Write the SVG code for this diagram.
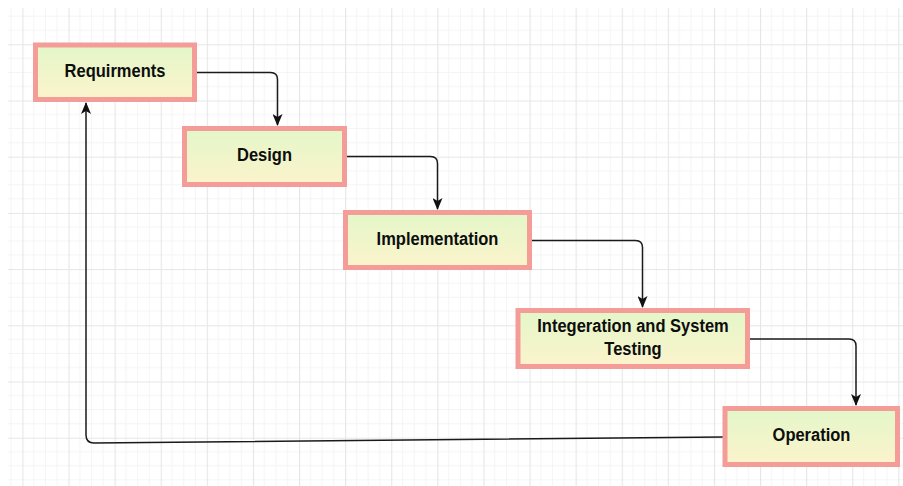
<svg xmlns="http://www.w3.org/2000/svg" width="903" height="486" viewBox="0 0 903 486">
  <defs>
    <!-- background grid: faint minor lines, four per major cell -->
    <pattern id="grid" patternUnits="userSpaceOnUse" x="22.4" y="44.3" width="46.1" height="56.2">
      <g stroke="#f4f4f4" stroke-width="1">
        <line x1="11.5" y1="0" x2="11.5" y2="56.2"/>
        <line x1="23" y1="0" x2="23" y2="56.2"/>
        <line x1="34.6" y1="0" x2="34.6" y2="56.2"/>
        <line x1="0" y1="14" x2="46.1" y2="14"/>
        <line x1="0" y1="28.1" x2="46.1" y2="28.1"/>
        <line x1="0" y1="42.1" x2="46.1" y2="42.1"/>
      </g>
      <g stroke="#e6e6e6" stroke-width="1.2">
        <line x1="0.5" y1="0" x2="0.5" y2="56.2"/>
        <line x1="0" y1="0.5" x2="46.1" y2="0.5"/>
      </g>
    </pattern>
    <linearGradient id="boxFill" x1="0" y1="0" x2="0" y2="1">
      <stop offset="0" stop-color="#e3f7c8"/>
      <stop offset="1" stop-color="#fcf3cc"/>
    </linearGradient>
    <marker id="arrow" viewBox="0 0 12 10" refX="11" refY="5" markerWidth="13" markerHeight="10" markerUnits="userSpaceOnUse" orient="auto">
      <path d="M0,0 L12,5 L0,10 L3,5 Z" fill="#111"/>
    </marker>
    <style>
      .box { fill: url(#boxFill); stroke: #f39c98; stroke-width: 5; }
      .label { font-family: "Liberation Sans", Arial, sans-serif; font-weight: bold; font-size: 16.5px; fill: #0d0d0d; text-anchor: middle; }
      .edge { fill: none; stroke: #1a1a1a; stroke-width: 1.5; marker-end: url(#arrow); }
    </style>
  </defs>

  <rect x="0" y="0" width="903" height="486" fill="#ffffff"/>
  <rect x="8" y="8" width="895" height="478" fill="url(#grid)"/>

  <g id="connectors">
    <path class="edge" d="M197,72.5 H270.5 Q277.5,72.5 277.5,79.5 V125"/>
    <path class="edge" d="M347,156.5 H430.5 Q437.5,156.5 437.5,163.5 V209"/>
    <path class="edge" d="M532,240.5 H635.5 Q642.5,240.5 642.5,247.5 V307"/>
    <path class="edge" d="M750,339 H849 Q856,339 856,346 V405"/>
    <path class="edge" d="M723,437 L94,443 Q86,443 86,435 V103"/>
  </g>

  <!-- labels are drawn slightly taller than wide (scaled 1.1 vertically about their baseline) -->
  <g id="requirments">
    <rect class="box" x="35.5" y="45" width="159" height="54.5"/>
    <text class="label" transform="translate(0,77) scale(1,1.1)" x="115" y="0">Requirments</text>
  </g>

  <g id="design">
    <rect class="box" x="184.5" y="128.5" width="160" height="56"/>
    <text class="label" transform="translate(0,160.5) scale(1,1.1)" x="264.5" y="0">Design</text>
  </g>

  <g id="implementation">
    <rect class="box" x="345.5" y="212.5" width="184" height="55"/>
    <text class="label" transform="translate(0,245) scale(1,1.1)" x="437.5" y="0">Implementation</text>
  </g>

  <g id="integration-testing">
    <rect class="box" x="518" y="310.5" width="229.5" height="56"/>
    <text class="label" transform="translate(0,331.5) scale(1,1.1)" x="633" y="0">Integeration and System</text>
    <text class="label" transform="translate(0,355) scale(1,1.1)" x="633" y="0">Testing</text>
  </g>

  <g id="operation">
    <rect class="box" x="725" y="408.5" width="172.5" height="56"/>
    <text class="label" transform="translate(0,440.5) scale(1,1.1)" x="811.5" y="0">Operation</text>
  </g>
</svg>
